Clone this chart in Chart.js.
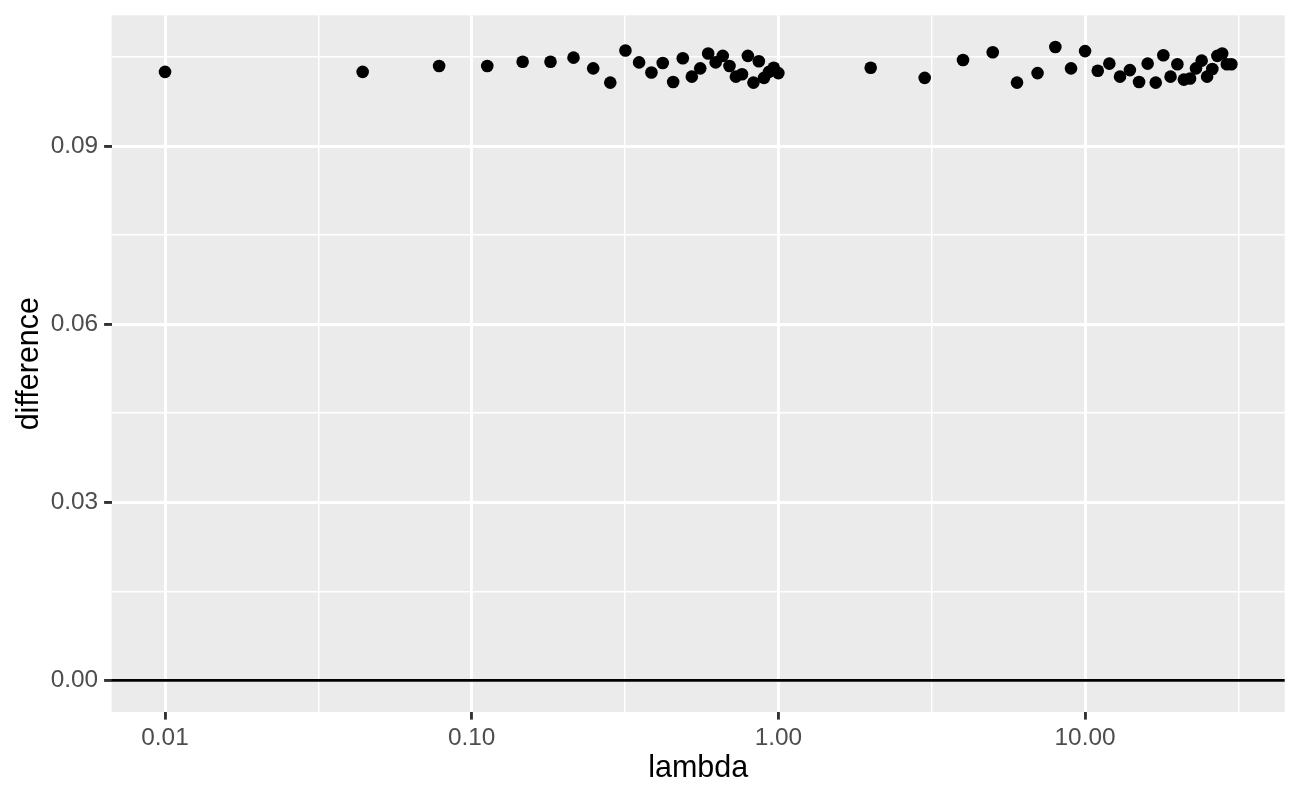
<!DOCTYPE html>
<html>
<head>
<meta charset="utf-8">
<title>difference vs lambda</title>
<script src="https://cdn.jsdelivr.net/npm/chart.js@4.4.1/dist/chart.umd.min.js"></script>
<style>
  html, body { margin: 0; padding: 0; background: #ffffff; }
  #wrap { width: 1300px; height: 800px; }
</style>
</head>
<body>
<div id="wrap"><canvas id="plot" width="1300" height="800"></canvas></div>
<script>
// lambda values (x, log scale)
const lambda = [
  0.01, 0.0441, 0.0783, 0.1124, 0.1466, 0.1807, 0.2148, 0.249, 0.2831, 0.3172,
  0.3514, 0.3855, 0.4197, 0.4538, 0.4879, 0.5221, 0.5562, 0.5903, 0.6245, 0.6586,
  0.6928, 0.7269, 0.761, 0.7952, 0.8293, 0.8634, 0.8976, 0.9317, 0.9659, 1,
  2, 3, 4, 5, 6, 7, 8, 9, 10, 11, 12, 13, 14, 15, 16, 17, 18, 19, 20,
  21, 22, 23, 24, 25, 26, 27, 28, 29, 30
];

// difference values (y)
const difference = [
  0.1025, 0.1025, 0.1035, 0.1035, 0.1042, 0.1042, 0.1049, 0.1031, 0.1007, 0.1061,
  0.1041, 0.1024, 0.1040, 0.1008, 0.1048, 0.1017, 0.1031, 0.1056, 0.1041, 0.1052,
  0.1035, 0.1017, 0.1021, 0.1052, 0.1007, 0.1043, 0.1015, 0.1025, 0.1032, 0.1023,
  0.1032, 0.1015, 0.1045, 0.1058, 0.1007, 0.1023, 0.1067, 0.1031, 0.1060, 0.1027,
  0.1039, 0.1017, 0.1028, 0.1008, 0.1039, 0.1007, 0.1053, 0.1017, 0.1038, 0.1012,
  0.1014, 0.1031, 0.1044, 0.1017, 0.1030, 0.1052, 0.1056, 0.1038, 0.1038
];

const xTicks = [0.01, 0.1, 1, 10];
const xTickLabels = ['0.01', '0.10', '1.00', '10.00'];
const xMinor = [0.0316, 0.316, 3.16, 31.6];

const yTicks = [0, 0.03, 0.06, 0.09];
const yTickLabels = ['0.00', '0.03', '0.06', '0.09'];
const yMinor = [0.015, 0.045, 0.075, 0.105];

const hlineAt = 0;

// ggplot-like 5% expansion of the data range
const lx = lambda.map(Math.log10);
const lxLo = Math.min(...lx), lxHi = Math.max(...lx);
const lxPad = (lxHi - lxLo) * 0.05;
const xMin = Math.pow(10, lxLo - lxPad);
const xMax = Math.pow(10, lxHi + lxPad);

const yLo = Math.min(hlineAt, ...difference), yHi = Math.max(hlineAt, ...difference);
const yPad = (yHi - yLo) * 0.05;
const yMin = yLo - yPad;
const yMax = yHi + yPad;

function tickSet(major, labels, minor) {
  const all = major.map((v, i) => ({ value: v, lab: labels[i], isMajor: true }))
    .concat(minor.map(v => ({ value: v, lab: '', isMajor: false })));
  all.sort((a, b) => a.value - b.value);
  return all;
}

const FONT = '"Liberation Sans", Arial, Helvetica, sans-serif';

const panelBg = {
  id: 'panelBg',
  beforeDraw(chart) {
    const { ctx, chartArea: a } = chart;
    ctx.save();
    ctx.fillStyle = '#EBEBEB';
    ctx.fillRect(a.left, a.top, a.right - a.left, a.bottom - a.top);
    ctx.restore();
  }
};

const hline = {
  id: 'hline',
  beforeDatasetsDraw(chart) {
    const { ctx, chartArea: a } = chart;
    const y = chart.scales.y.getPixelForValue(hlineAt);
    ctx.save();
    ctx.strokeStyle = '#000000';
    ctx.lineWidth = 2.9;
    ctx.beginPath();
    ctx.moveTo(a.left, y);
    ctx.lineTo(a.right, y);
    ctx.stroke();
    ctx.restore();
  }
};

const gridOpts = {
  color: '#FFFFFF',
  lineWidth: ctx => (ctx.tick && ctx.tick.isMajor ? 2.9 : 1.45),
  drawTicks: true,
  tickLength: 7.6,
  tickWidth: 2.9,
  tickColor: ctx => (ctx.tick && ctx.tick.isMajor ? '#333333' : 'rgba(0,0,0,0)')
};

new Chart(document.getElementById('plot'), {
  type: 'scatter',
  data: {
    datasets: [{
      label: 'difference',
      data: lambda.map((x, i) => ({ x: x, y: difference[i] })),
      backgroundColor: '#000000',
      borderColor: '#000000',
      borderWidth: 0,
      pointRadius: 6.3,
      pointHoverRadius: 6.3
    }]
  },
  options: {
    responsive: false,
    devicePixelRatio: 1,
    animation: false,
    layout: { padding: { top: 15.3, right: 15.3, left: 0, bottom: 0 } },
    plugins: {
      legend: { display: false },
      tooltip: { enabled: false }
    },
    scales: {
      x: {
        type: 'logarithmic',
        bounds: 'data',
        min: xMin,
        max: xMax,
        border: { display: false },
        grid: gridOpts,
        afterBuildTicks: s => { s.ticks = tickSet(xTicks, xTickLabels, xMinor); },
        afterFit: s => { s.height = 88; s.paddingLeft = 0; s.paddingRight = 0; },
        ticks: {
          autoSkip: false,
          maxRotation: 0,
          padding: 4,
          color: '#4D4D4D',
          font: { family: FONT, size: 24.4 },
          callback: (v, i, ticks) => ticks[i].lab
        },
        title: {
          display: true,
          text: 'lambda',
          color: '#000000',
          font: { family: FONT, size: 30.5 },
          padding: { top: 0, bottom: 13 }
        }
      },
      y: {
        type: 'linear',
        min: yMin,
        max: yMax,
        border: { display: false },
        grid: gridOpts,
        afterBuildTicks: s => { s.ticks = tickSet(yTicks, yTickLabels, yMinor); },
        afterFit: s => { s.width = 111.7; s.paddingTop = 0; s.paddingBottom = 0; },
        ticks: {
          autoSkip: false,
          padding: 6,
          color: '#4D4D4D',
          font: { family: FONT, size: 24.4 },
          callback: (v, i, ticks) => ticks[i].lab
        },
        title: {
          display: true,
          text: 'difference',
          color: '#000000',
          font: { family: FONT, size: 30.5 },
          padding: { top: 11, bottom: 0 }
        }
      }
    }
  },
  plugins: [panelBg, hline]
});
</script>
</body>
</html>
